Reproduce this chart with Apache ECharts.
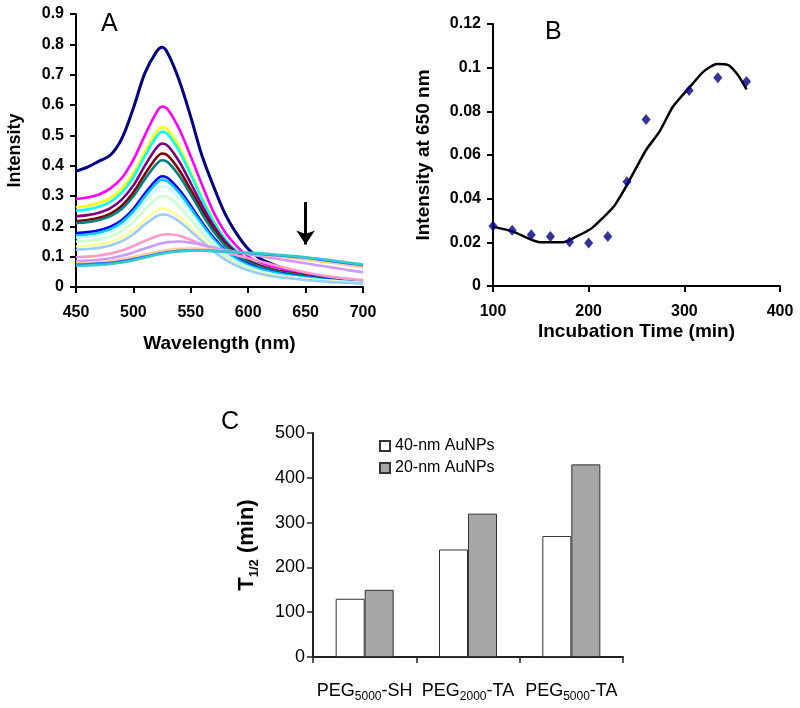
<!DOCTYPE html>
<html>
<head>
<meta charset="utf-8">
<script src="https://cdn.jsdelivr.net/npm/echarts@6/dist/echarts.min.js"></script>
<style>
html,body{margin:0;padding:0;background:#fff;}
#chart{width:800px;height:708px;}
</style>
</head>
<body>
<div id="chart"></div>
<script>
// ---------- Panel A data ----------
const wavelengths = [450,460,470,480,490,500,510,520,525,530,540,550,560,570,580,590,600,610,620,630,640,650,660,670,680,690,700];
const spectraColors = ['#000080','#FF00FF','#FFFF00','#00FFFF','#800080','#800000','#008080','#0000FF','#00CCFF','#CCFFFF','#CCFFCC','#FFFF99','#99CCFF','#FF99CC','#CC99FF','#FFCC99','#3366FF','#33CCCC'];
const spec01 = [.382,.395,.415,.435,.49,.59,.705,.775,.79,.77,.68,.56,.43,.33,.24,.175,.125,.095,.077,.062,.05,.04,.033,.027,.022,.018,.015];
const spec02 = [.29,.295,.305,.325,.36,.42,.50,.575,.595,.585,.52,.43,.335,.245,.18,.135,.10,.08,.067,.057,.048,.042,.036,.031,.026,.022,.019];
const spec03 = [.263,.268,.277,.293,.325,.375,.445,.51,.527,.518,.46,.38,.295,.22,.16,.12,.092,.073,.06,.05,.043,.037,.032,.027,.023,.02,.017];
const spec04 = [.252,.256,.265,.281,.312,.362,.432,.495,.512,.503,.447,.37,.288,.215,.158,.118,.09,.072,.059,.05,.043,.037,.032,.027,.023,.02,.017];
const spec05 = [.233,.237,.245,.26,.289,.335,.40,.458,.473,.465,.413,.342,.268,.202,.15,.114,.088,.071,.059,.05,.044,.038,.033,.028,.024,.021,.018];
const spec06 = [.217,.221,.228,.242,.268,.312,.372,.426,.44,.433,.385,.32,.252,.19,.142,.108,.085,.069,.058,.05,.044,.038,.033,.028,.024,.021,.018];
const spec07 = [.211,.214,.221,.234,.258,.299,.355,.405,.418,.411,.366,.305,.24,.182,.136,.104,.082,.067,.056,.048,.042,.036,.031,.027,.023,.02,.017];
const spec08 = [.178,.181,.187,.199,.221,.258,.308,.353,.365,.359,.32,.268,.212,.162,.122,.094,.075,.061,.051,.044,.038,.033,.029,.025,.021,.018,.016];
const spec09 = [.17,.173,.179,.191,.213,.249,.298,.342,.354,.348,.31,.259,.205,.156,.118,.091,.072,.059,.049,.042,.036,.031,.027,.023,.02,.017,.015];
const spec10 = [.162,.165,.17,.181,.201,.234,.28,.321,.332,.327,.292,.244,.193,.147,.11,.084,.066,.053,.044,.037,.032,.028,.024,.021,.018,.015,.013];
const spec11 = [.15,.152,.157,.167,.185,.214,.255,.291,.30,.296,.265,.222,.176,.135,.102,.078,.061,.049,.041,.035,.03,.026,.023,.02,.017,.015,.013];
const spec12 = [.134,.136,.14,.148,.163,.188,.222,.252,.259,.256,.231,.195,.157,.122,.094,.073,.058,.047,.039,.033,.029,.025,.022,.019,.016,.014,.012];
const spec13 = [.123,.125,.129,.137,.151,.174,.206,.233,.239,.237,.216,.184,.15,.117,.09,.07,.055,.044,.036,.031,.027,.023,.02,.017,.015,.013,.011];
const spec14 = [.098,.10,.104,.11,.12,.135,.152,.167,.172,.174,.169,.155,.14,.127,.115,.105,.095,.085,.075,.065,.056,.048,.041,.035,.03,.026,.023];
const spec15 = [.085,.087,.09,.095,.103,.114,.127,.139,.144,.148,.15,.146,.138,.13,.122,.115,.108,.102,.096,.09,.084,.078,.072,.066,.06,.054,.049];
const spec16 = [.079,.08,.082,.086,.092,.099,.107,.115,.119,.122,.126,.127,.126,.123,.119,.115,.111,.107,.103,.099,.095,.091,.086,.081,.076,.07,.065];
const spec17 = [.074,.075,.077,.08,.085,.092,.10,.108,.112,.115,.119,.12,.12,.119,.117,.115,.112,.109,.106,.103,.10,.097,.092,.087,.082,.077,.072];
const spec18 = [.07,.071,.073,.076,.081,.088,.097,.106,.11,.113,.118,.12,.12,.119,.117,.115,.113,.111,.108,.105,.102,.098,.094,.089,.084,.079,.074];
const spectra = [spec01,spec02,spec03,spec04,spec05,spec06,spec07,spec08,spec09,spec10,spec11,spec12,spec13,spec14,spec15,spec16,spec17,spec18];
const arrowWavelength = 650;
const arrowFrom = 0.28, arrowTo = 0.14;

// ---------- Panel B data ----------
const timePoints = [100,120,140,160,180,200,220,240,260,305,335,365];
const intensity650 = [0.0275,0.0255,0.0235,0.0227,0.0202,0.0197,0.0227,0.0478,0.0763,0.0895,0.0954,0.0937];
const fitTime = [100,121,149,173,187,203,226,240,260,274,288,306,320,334,346,356,365];
const fitValues = [0.0272,0.0249,0.0200,0.0200,0.0226,0.0264,0.0363,0.0463,0.0623,0.0707,0.0821,0.0913,0.0982,0.1017,0.1012,0.0966,0.0901];

// ---------- Panel C data ----------
const categories = ['PEG5000-SH','PEG2000-TA','PEG5000-TA'];
const t40nm = [130,240,270];
const t20nm = [150,320,430];
const legendNames = ['40-nm AuNPs','20-nm AuNPs'];

const tickFont = {fontFamily:'Liberation Sans', fontWeight:'bold', fontSize:16, color:'#000'};
const titleFont = {fontFamily:'Liberation Sans', fontWeight:'bold', fontSize:19, color:'#000'};
const blackLine = {show:true, lineStyle:{color:'#000', width:2}};
const blackTick = {show:true, inside:false, length:6, lineStyle:{color:'#000', width:2}};

const series = [];
spectra.forEach((arr, i) => {
  const s = {
    type:'line', xAxisIndex:0, yAxisIndex:0,
    data: wavelengths.map((w, j) => [w, arr[j]]),
    showSymbol:false, smooth:0.35,
    lineStyle:{color:spectraColors[i], width: i === 0 ? 3 : 2.6},
    itemStyle:{color:spectraColors[i]},
    silent:true, z: 2
  };
  if (i === 0) {
    s.markLine = {
      silent:true, symbol:['none','arrow'], symbolSize:[14,14],
      label:{show:false},
      lineStyle:{color:'#000', width:3, type:'solid'},
      data:[[{coord:[arrowWavelength, arrowFrom]},{coord:[arrowWavelength, arrowTo]}]]
    };
  }
  series.push(s);
});
series.push({
  type:'line', xAxisIndex:1, yAxisIndex:1,
  data: fitTime.map((t, j) => [t, fitValues[j]]),
  showSymbol:false, smooth:0.2,
  lineStyle:{color:'#000', width:2.5}, silent:true, z:2
});
series.push({
  type:'scatter', xAxisIndex:1, yAxisIndex:1,
  data: timePoints.map((t, j) => [t, intensity650[j]]),
  symbol:'diamond', symbolSize:[9,11],
  itemStyle:{color:'#000080'}, z:3
});
series.push({
  type:'bar', name:legendNames[0], xAxisIndex:2, yAxisIndex:2,
  data:t40nm, barWidth:29, barGap:'0%',
  itemStyle:{color:'#ffffff', borderColor:'#333', borderWidth:1}
});
series.push({
  type:'bar', name:legendNames[1], xAxisIndex:2, yAxisIndex:2,
  data:t20nm, barWidth:29, barGap:'0%',
  itemStyle:{color:'#a6a6a6', borderColor:'#333', borderWidth:1}
});

const option = {
  backgroundColor:'#fff',
  animation:false,
  grid:[
    {left:76, top:14, width:287, height:273},
    {left:493, top:24, width:287, height:262},
    {left:313, top:433, width:310, height:224}
  ],
  xAxis:[
    {gridIndex:0, type:'value', min:450, max:700, interval:50,
     axisLine:blackLine, axisTick:blackTick, splitLine:{show:false},
     axisLabel:Object.assign({margin:18}, tickFont),
     name:'Wavelength (nm)', nameLocation:'middle', nameGap:47,
     nameTextStyle:Object.assign({}, titleFont)},
    {gridIndex:1, type:'value', min:100, max:400, interval:100,
     axisLine:blackLine, axisTick:blackTick, splitLine:{show:false},
     axisLabel:Object.assign({margin:18}, tickFont),
     name:'Incubation Time (min)', nameLocation:'middle', nameGap:36,
     nameTextStyle:Object.assign({}, titleFont)},
    {gridIndex:2, type:'category', data:categories,
     axisLine:{show:true, lineStyle:{color:'#222', width:2}},
     axisTick:{show:true, length:6, lineStyle:{color:'#222', width:1.5}},
     axisLabel:{interval:0, margin:22, fontFamily:'Liberation Sans', fontSize:18, color:'#000', lineHeight:24,
       formatter: v => v.replace(/(\d+)/, '{sub|$1}'),
       rich:{sub:{fontFamily:'Liberation Sans', fontSize:12, color:'#000', lineHeight:12, verticalAlign:'bottom'}}}}
  ],
  yAxis:[
    {gridIndex:0, type:'value', min:0, max:0.9, interval:0.1,
     axisLine:blackLine, axisTick:blackTick, splitLine:{show:false},
     axisLabel:Object.assign({margin:12}, tickFont),
     name:'Intensity', nameLocation:'middle', nameGap:52,
     nameTextStyle:Object.assign({}, titleFont, {fontSize:18})},
    {gridIndex:1, type:'value', min:0, max:0.12, interval:0.02,
     axisLine:blackLine, axisTick:blackTick, splitLine:{show:false},
     axisLabel:Object.assign({margin:12}, tickFont),
     name:'Intensity at 650 nm', nameLocation:'middle', nameGap:60,
     nameTextStyle:Object.assign({}, titleFont)},
    {gridIndex:2, type:'value', min:0, max:500, interval:100,
     axisLine:{show:true, lineStyle:{color:'#222', width:2}},
     axisTick:{show:true, length:6, lineStyle:{color:'#222', width:1.5}},
     splitLine:{show:false},
     axisLabel:{margin:8, fontFamily:'Liberation Sans', fontSize:18, color:'#000'},
     name:'T{sub|1/2} (min)', nameLocation:'middle', nameGap:52,
     nameTextStyle:{fontFamily:'Liberation Sans', fontWeight:'bold', fontSize:22, color:'#000', lineHeight:28,
       rich:{sub:{fontFamily:'Liberation Sans', fontWeight:'bold', fontSize:13, color:'#000', lineHeight:13, verticalAlign:'bottom'}}}}
  ],
  legend:{
    data:legendNames, orient:'vertical', left:374, top:433,
    itemWidth:10, itemHeight:10, itemGap:6, icon:'rect',
    textStyle:{fontFamily:'Liberation Sans', fontSize:16, color:'#000'},
    selectedMode:false
  },
  graphic:[
    {type:'text', left:101, top:12, style:{text:'A', font:'25px "Liberation Sans"', fill:'#000'}},
    {type:'text', left:545, top:20, style:{text:'B', font:'25px "Liberation Sans"', fill:'#000'}},
    {type:'text', left:221, top:410, style:{text:'C', font:'25px "Liberation Sans"', fill:'#000'}}
  ],
  series: series
};

const chart = echarts.init(document.getElementById('chart'), null, {renderer:'canvas'});
chart.setOption(option);
</script>
</body>
</html>
